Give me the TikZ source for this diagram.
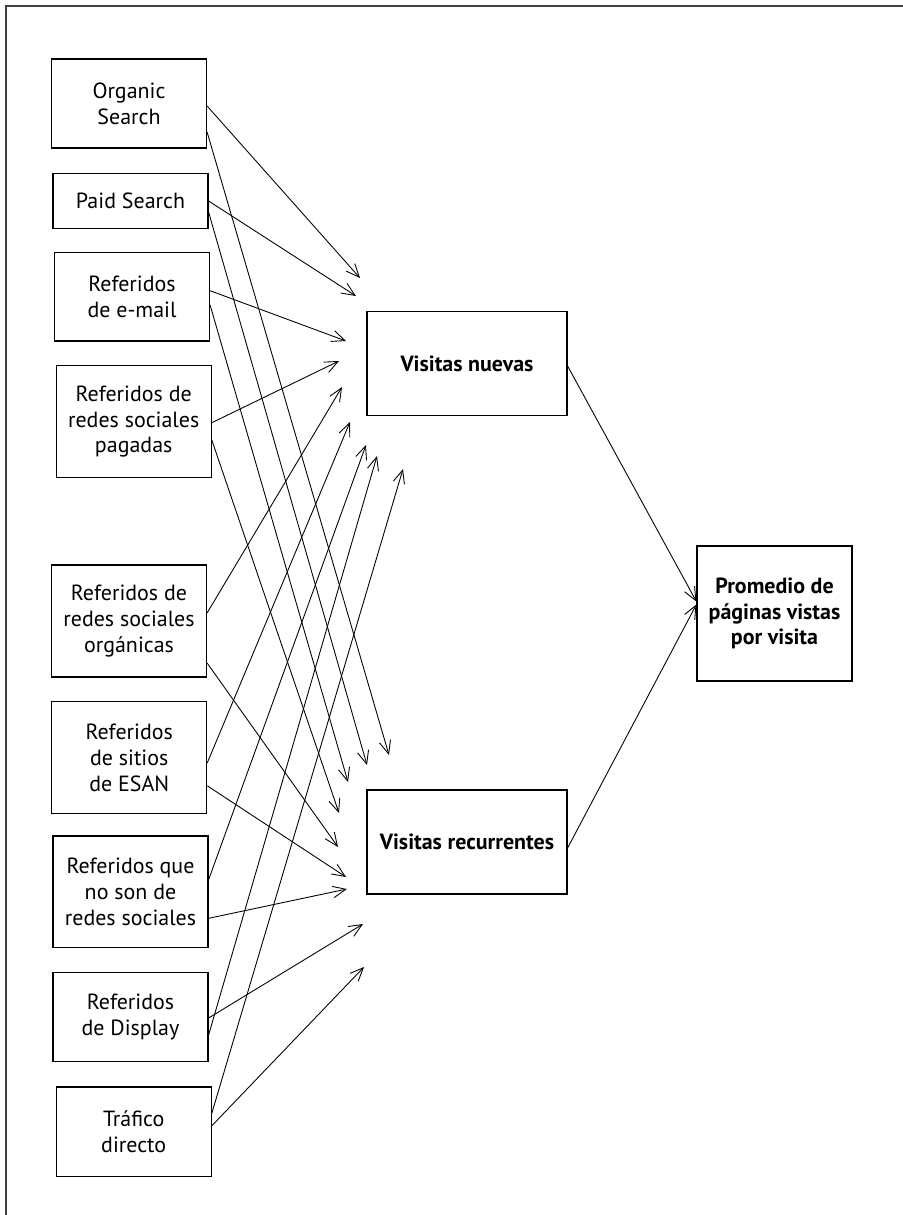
\documentclass[tikz,border=0pt]{standalone}
\usepackage{fontspec}
\setmainfont{PT Sans}
\usetikzlibrary{arrows.meta,calc}
\begin{document}
\begin{tikzpicture}[x=0.02cm, y=-0.02cm, every node/.style={font=\fontsize{12.5}{14.7}\selectfont},
  srcbox/.style={draw,line width=0.7pt,minimum width=3.1cm,inner sep=2pt,align=center},
  visbox/.style={draw,line width=0.7pt,minimum width=4.0cm,minimum height=2.08cm,align=center,font=\fontsize{12.5}{14.7}\selectfont\bfseries},
  flecha/.style={-{Straight Barb[length=7.5pt,width=6.5pt]},line width=0.5pt}]
\useasboundingbox (0,0) rectangle (903,1215);
\draw[line width=1pt,black!75] (6,1215) -- (6,6) -- (903,6);
\node[srcbox,minimum height=1.78cm] (org) at (129,103.5) {Organic\\Search};
\node[srcbox,minimum height=1.09cm] (paid) at (130.5,201) {Paid Search};
\node[srcbox,minimum height=1.77cm] (mail) at (132,296.7) {Referidos\\de e-mail};
\node[srcbox,minimum height=2.24cm] (pag) at (133.7,421.7) {Referidos de\\redes sociales\\pagadas};
\node[srcbox,minimum height=2.24cm] (orgn) at (129,621) {Referidos de\\redes sociales\\orgánicas};
\node[srcbox,minimum height=2.24cm] (esan) at (129.2,757.8) {Referidos\\de sitios\\de ESAN};
\node[srcbox,minimum height=2.23cm] (nored) at (130.5,891.8) {Referidos que\\no son de\\redes sociales};
\node[srcbox,minimum height=1.79cm] (disp) at (130.5,1017) {Referidos\\de Display};
\node[srcbox,minimum height=1.79cm] (traf) at (133.7,1131.8) {Tráfico\\directo};
\node[visbox] (nuevas) at (467,363.5) {Visitas nuevas};
\node[visbox] (recur) at (467,842) {Visitas recurrentes};
\node[visbox,minimum width=3.1cm,minimum height=2.7cm] (prom) at (774.5,613.5) {Promedio de\\páginas vistas\\por visita};
\coordinate (n1) at (360,278); \coordinate (n2) at (356,296); \coordinate (n3) at (346,341);
\coordinate (n4) at (339,361); \coordinate (n5) at (342,387); \coordinate (n6) at (350,422);
\coordinate (n7) at (366,445); \coordinate (n8) at (377,456); \coordinate (n9) at (403,469);
\coordinate (r1) at (389,755); \coordinate (r2) at (367,765); \coordinate (r3) at (348,782);
\coordinate (r4) at (339,813); \coordinate (r5) at (338,847); \coordinate (r6) at (346,877);
\coordinate (r7) at (347,889); \coordinate (r8) at (363,924); \coordinate (r9) at (364,967);
\draw[flecha] ($(org.east)+(0,2.5)$) -- (n1);
\draw[flecha] ($(org.east)+(0,28.5)$) -- (r1);
\draw[flecha] (paid.east) -- (n2);
\draw[flecha] ($(paid.east)+(0,11)$) -- (r2);
\draw[flecha] ($(mail.east)+(0,-6)$) -- (n3);
\draw[flecha] ($(mail.east)+(0,8.3)$) -- (r3);
\draw[flecha] ($(pag.east)+(0,1)$) -- (n4);
\draw[flecha] ($(pag.east)+(0,18.3)$) -- (r4);
\draw[flecha] ($(orgn.east)+(0,-8)$) -- (n5);
\draw[flecha] ($(orgn.east)+(0,42)$) -- (r5);
\draw[flecha] ($(esan.east)+(0,5)$) -- (n6);
\draw[flecha] ($(esan.east)+(0,28)$) -- (r6);
\draw[flecha] ($(nored.east)+(0,-12)$) -- (n7);
\draw[flecha] ($(nored.east)+(0,26.5)$) -- (r7);
\draw[flecha] ($(disp.east)+(0,18)$) -- (n8);
\draw[flecha] ($(disp.east)+(0,1)$) -- (r8);
\draw[flecha] ($(traf.east)+(0,-18.5)$) -- (n9);
\draw[flecha] ($(traf.east)+(0,-6)$) -- (r9);
\draw[flecha] ($(nuevas.east)+(0,2.5)$) -- ($(prom.west)+(0,-12)$);
\draw[flecha] ($(recur.east)+(0,6)$) -- ($(prom.west)+(0,-9)$);
\end{tikzpicture}
\end{document}
